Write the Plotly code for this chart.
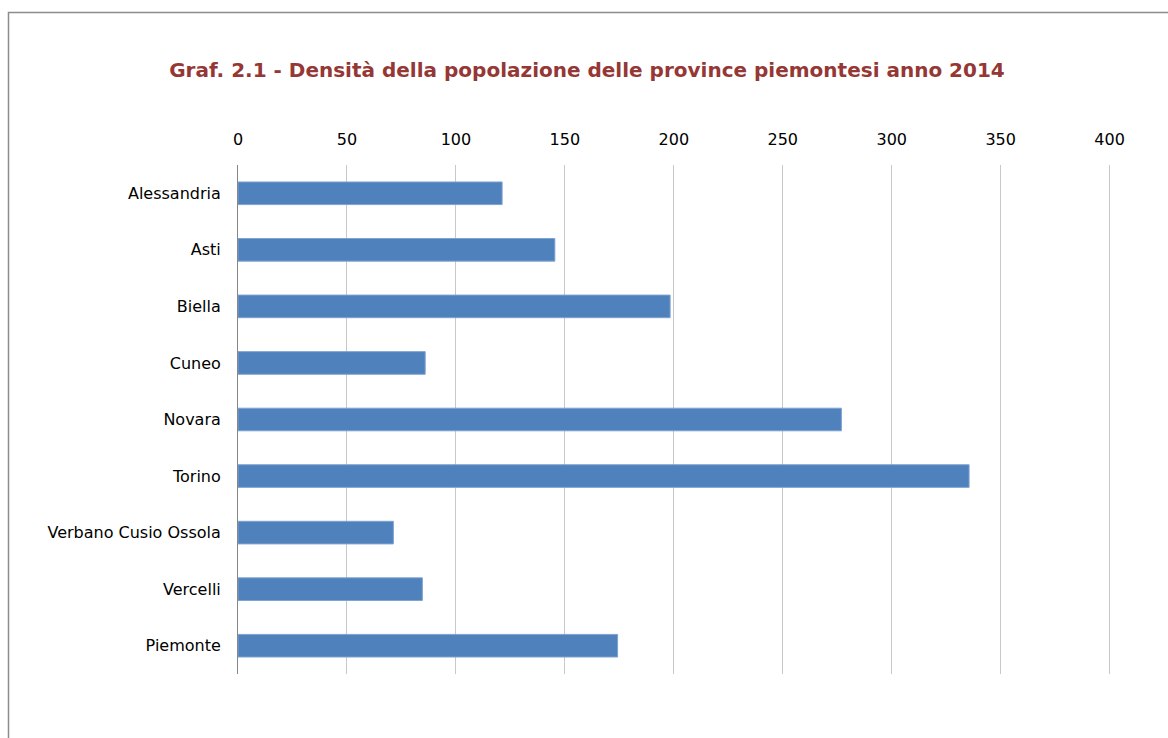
import plotly.graph_objects as go

categories = ["Alessandria", "Asti", "Biella", "Cuneo", "Novara", "Torino",
              "Verbano Cusio Ossola", "Vercelli", "Piemonte"]
density = [121.2, 145.4, 198.3, 85.9, 276.9, 335.5, 71.3, 84.6, 174.2]
tick_vals = [0, 50, 100, 150, 200, 250, 300, 350, 400]
title_text = "Graf. 2.1 - Densità della popolazione delle province piemontesi anno 2014"

W, H = 1168, 738
ML, MT, MB = 238, 165, 64
X_MAX = 402                      # small pad so the 400 gridline is drawn
PX_PER_UNIT = 872 / 400
MR = round(W - ML - X_MAX * PX_PER_UNIT)
pw, ph = W - ML - MR, H - MT - MB

fig = go.Figure(go.Bar(
    x=density, y=categories, orientation="h",
    marker=dict(color="#4F81BD", line=dict(color="#7FA2D0", width=1)),
    width=0.4, hoverinfo="x+y",
))

def px_x(p):
    return (p - ML) / pw

def px_y(p):
    return (H - MB - p) / ph

fig.update_layout(
    width=W, height=H,
    margin=dict(l=ML, r=MR, t=MT, b=MB),
    paper_bgcolor="white", plot_bgcolor="white",
    showlegend=False,
    font=dict(family="DejaVu Sans, Verdana, sans-serif", size=16, color="#000000"),
    title=dict(text="<b>" + title_text + "</b>", x=587 / W, xref="container", xanchor="center",
               y=1 - 70 / H, yanchor="middle",
               font=dict(family="DejaVu Sans, Verdana, sans-serif", size=20, color="#953735")),
    xaxis=dict(side="top", range=[0, X_MAX], tickvals=tick_vals,
               showgrid=True, gridcolor="#C8C8C8", gridwidth=1,
               zeroline=False, showline=False, ticks="", ticklabelstandoff=16,
               tickfont=dict(size=16)),
    yaxis=dict(autorange="reversed", showgrid=False, zeroline=False,
               showline=True, linecolor="#868686", linewidth=1,
               ticks="", ticklabelstandoff=13, tickfont=dict(size=16)),
    shapes=[dict(type="rect", xref="paper", yref="paper",
                 x0=px_x(8.5), x1=px_x(W + 20), y0=px_y(H + 20), y1=px_y(12.5),
                 line=dict(color="#8C8C8C", width=1.5), layer="below")],
)

fig.write_html("out.html", config={"displayModeBar": False},
               post_script="document.body.style.margin='0';document.body.style.overflow='hidden';")
